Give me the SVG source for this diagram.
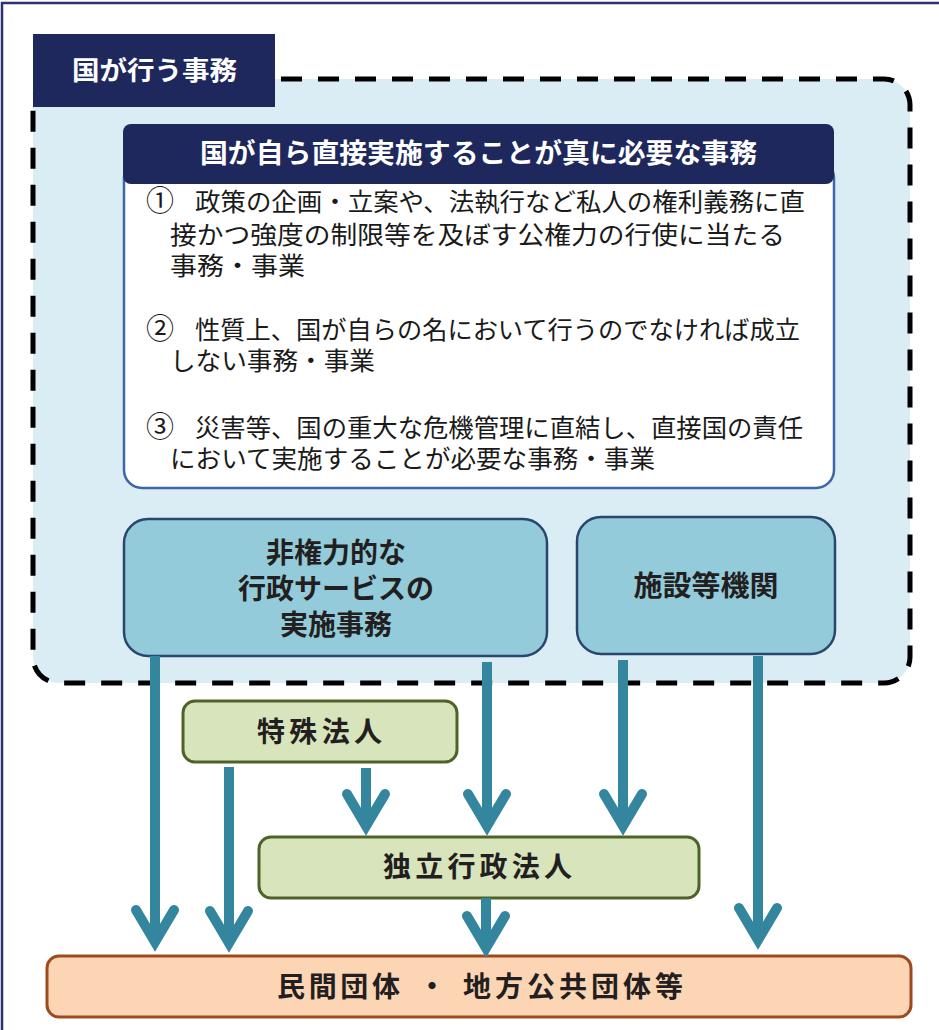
<svg xmlns="http://www.w3.org/2000/svg" width="939" height="1030" viewBox="0 0 939 1030">
<defs>
<style>
.jp{font-family:"Noto Sans CJK JP","Noto Sans CJK SC",sans-serif}
.body{font-size:25px;fill:#1a1a1a}
.mark{font-size:28px}
.bold{font-weight:bold;font-size:28px;fill:#231f20}
.white{font-weight:bold;fill:#ffffff}
.blue{fill:#93cbdb;stroke:#29476d;stroke-width:2.5}
.green{fill:#d8e4bc;stroke:#4f6228;stroke-width:3}
.orange{fill:#fcd5b4;stroke:#9c4a1e;stroke-width:3}
.shaft{stroke:#33869e;stroke-width:10;fill:none}
.head{stroke:#33869e;stroke-width:10;fill:none;stroke-linecap:round;stroke-linejoin:miter}
</style>
</defs>
<rect x="2" y="3" width="960" height="1060" fill="#ffffff" stroke="#2b3272" stroke-width="2.5"/>

<g id="region">
<rect x="33" y="79" width="877" height="604" rx="26" fill="#dbedf4" stroke="#000000" stroke-width="5" stroke-dasharray="21 16"/>
</g>

<g id="title">
<rect x="33" y="34" width="242" height="73" fill="#1f285c"/>
<text class="jp white" x="72" y="80" font-size="26" textLength="165" lengthAdjust="spacingAndGlyphs">国が行う事務</text>
</g>

<g id="core">
<rect x="124" y="160" width="710" height="328" rx="18" fill="#ffffff" stroke="#3d67a8" stroke-width="2.5"/>
<rect x="123" y="124" width="711" height="60" rx="8" fill="#1f285c"/>
<text class="jp white" x="200" y="163" font-size="27" textLength="557" lengthAdjust="spacingAndGlyphs">国が自ら直接実施することが真に必要な事務</text>
<text class="jp body"><tspan class="mark" x="146" y="211">①</tspan><tspan x="195" y="211" textLength="610" lengthAdjust="spacingAndGlyphs">政策の企画・立案や、法執行など私人の権利義務に直</tspan><tspan x="170" y="244" textLength="615" lengthAdjust="spacingAndGlyphs">接かつ強度の制限等を及ぼす公権力の行使に当たる</tspan><tspan x="170" y="275" textLength="135" lengthAdjust="spacingAndGlyphs">事務・事業</tspan></text>
<text class="jp body"><tspan class="mark" x="146" y="339">②</tspan><tspan x="195" y="339" textLength="605" lengthAdjust="spacingAndGlyphs">性質上、国が自らの名において行うのでなければ成立</tspan><tspan x="170" y="370" textLength="205" lengthAdjust="spacingAndGlyphs">しない事務・事業</tspan></text>
<text class="jp body"><tspan class="mark" x="146" y="437">③</tspan><tspan x="195" y="437" textLength="608" lengthAdjust="spacingAndGlyphs">災害等、国の重大な危機管理に直結し、直接国の責任</tspan><tspan x="170" y="468" textLength="485" lengthAdjust="spacingAndGlyphs">において実施することが必要な事務・事業</tspan></text>
</g>

<g id="service">
<rect class="blue" x="124" y="519" width="423" height="137" rx="24"/>
<text class="jp bold" text-anchor="middle"><tspan x="336" y="563">非権力的な</tspan><tspan x="336" y="599">行政サービスの</tspan><tspan x="336" y="635">実施事務</tspan></text>
</g>

<g id="facility">
<rect class="blue" x="577" y="517" width="258" height="137" rx="24"/>
<text class="jp bold" x="706" y="596" text-anchor="middle" textLength="145" lengthAdjust="spacingAndGlyphs">施設等機関</text>
</g>

<g id="tokushu">
<rect class="green" x="183" y="701" width="274" height="61" rx="12"/>
<text class="jp bold" x="257" y="742" textLength="125" lengthAdjust="spacing">特殊法人</text>
</g>

<g id="dokuritsu">
<rect class="green" x="259" y="837" width="440" height="61" rx="12"/>
<text class="jp bold" x="383" y="877" textLength="189" lengthAdjust="spacing">独立行政法人</text>
</g>

<g id="private">
<rect class="orange" x="47" y="956" width="864" height="61" rx="12"/>
<text class="jp bold" x="277" y="997" textLength="123" lengthAdjust="spacing">民間団体</text>
<text class="jp bold" x="432" y="997" text-anchor="middle">・</text>
<text class="jp bold" x="463" y="997" textLength="220" lengthAdjust="spacing">地方公共団体等</text>
</g>

<g id="connectors">
<line class="shaft" x1="155" y1="656" x2="155" y2="942"/>
<polyline class="head" points="136,910 155,942 174,910"/>
<line class="shaft" x1="229" y1="767" x2="229" y2="943"/>
<polyline class="head" points="210,911 229,943 248,911"/>
<line class="shaft" x1="366" y1="768" x2="366" y2="826"/>
<polyline class="head" points="347,794 366,826 385,794"/>
<line class="shaft" x1="487" y1="662" x2="487" y2="826"/>
<polyline class="head" points="468,794 487,826 506,794"/>
<line class="shaft" x1="623" y1="660" x2="623" y2="826"/>
<polyline class="head" points="604,794 623,826 642,794"/>
<line class="shaft" x1="758" y1="656" x2="758" y2="940"/>
<polyline class="head" points="739,908 758,940 777,908"/>
<line class="shaft" x1="486" y1="898" x2="486" y2="948"/>
<polyline class="head" points="467,916 486,948 505,916"/>
</g>
</svg>
